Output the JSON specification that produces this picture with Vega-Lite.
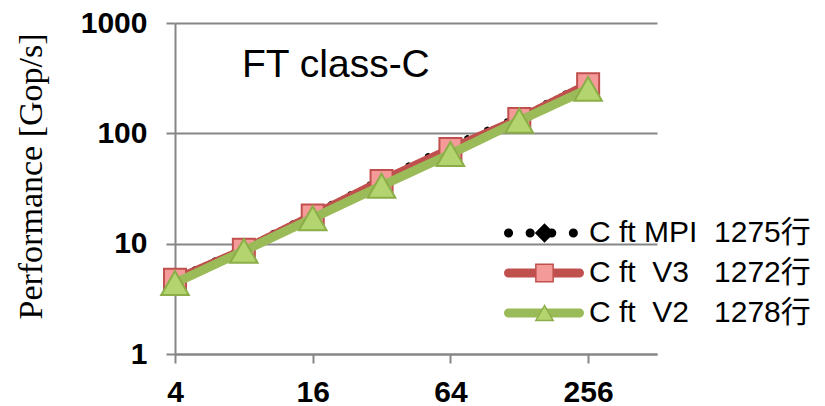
{
  "$schema": "https://vega.github.io/schema/vega-lite/v6.json",
  "width": 482,
  "height": 331,
  "autosize": {"type": "none"},
  "padding": {"left": 175, "top": 23, "right": 168, "bottom": 52},
  "background": "white",
  "config": {"view": {"stroke": null}},
  "title": {"text": "FT class-C", "orient": "top", "anchor": "start", "frame": "group", "font": "Liberation Sans", "fontSize": 39, "fontWeight": "normal", "color": "black", "dx": 67, "dy": 108, "baseline": "alphabetic", "offset": 0},
  "data": {"values": [
    {"procs": 4, "perf": 4.9, "code": "MPI", "series": "C ft\u00a0MPI\u00a0\u00a01275行"},
    {"procs": 8, "perf": 9.2, "code": "MPI", "series": "C ft\u00a0MPI\u00a0\u00a01275行"},
    {"procs": 16, "perf": 18.8, "code": "MPI", "series": "C ft\u00a0MPI\u00a0\u00a01275行"},
    {"procs": 32, "perf": 39, "code": "MPI", "series": "C ft\u00a0MPI\u00a0\u00a01275行"},
    {"procs": 64, "perf": 78, "code": "MPI", "series": "C ft\u00a0MPI\u00a0\u00a01275行"},
    {"procs": 128, "perf": 143, "code": "MPI", "series": "C ft\u00a0MPI\u00a0\u00a01275行"},
    {"procs": 256, "perf": 290, "code": "MPI", "series": "C ft\u00a0MPI\u00a0\u00a01275行"},
    {"procs": 4, "perf": 4.7, "code": "V3", "series": "C ft\u00a0\u00a0V3\u00a0\u00a0\u00a01272行"},
    {"procs": 8, "perf": 8.8, "code": "V3", "series": "C ft\u00a0\u00a0V3\u00a0\u00a0\u00a01272行"},
    {"procs": 16, "perf": 18.0, "code": "V3", "series": "C ft\u00a0\u00a0V3\u00a0\u00a0\u00a01272行"},
    {"procs": 32, "perf": 37, "code": "V3", "series": "C ft\u00a0\u00a0V3\u00a0\u00a0\u00a01272行"},
    {"procs": 64, "perf": 72, "code": "V3", "series": "C ft\u00a0\u00a0V3\u00a0\u00a0\u00a01272行"},
    {"procs": 128, "perf": 135, "code": "V3", "series": "C ft\u00a0\u00a0V3\u00a0\u00a0\u00a01272行"},
    {"procs": 256, "perf": 279, "code": "V3", "series": "C ft\u00a0\u00a0V3\u00a0\u00a0\u00a01272行"},
    {"procs": 4, "perf": 4.4, "code": "V2", "series": "C ft\u00a0\u00a0V2\u00a0\u00a0\u00a01278行"},
    {"procs": 8, "perf": 8.6, "code": "V2", "series": "C ft\u00a0\u00a0V2\u00a0\u00a0\u00a01278行"},
    {"procs": 16, "perf": 17.0, "code": "V2", "series": "C ft\u00a0\u00a0V2\u00a0\u00a0\u00a01278行"},
    {"procs": 32, "perf": 33.5, "code": "V2", "series": "C ft\u00a0\u00a0V2\u00a0\u00a0\u00a01278行"},
    {"procs": 64, "perf": 65, "code": "V2", "series": "C ft\u00a0\u00a0V2\u00a0\u00a0\u00a01278行"},
    {"procs": 128, "perf": 130, "code": "V2", "series": "C ft\u00a0\u00a0V2\u00a0\u00a0\u00a01278行"},
    {"procs": 256, "perf": 253, "code": "V2", "series": "C ft\u00a0\u00a0V2\u00a0\u00a0\u00a01278行"}
  ]},
  "encoding": {
    "x": {"field": "procs", "type": "quantitative",
      "scale": {"type": "log", "base": 2, "domain": [4, 512]},
      "axis": {"values": [4, 16, 64, 256], "format": "d", "grid": false, "title": null,
        "labelFont": "Liberation Sans", "labelFontSize": 30, "labelFontWeight": "bold", "labelColor": "black",
        "labelPadding": 14, "labelFlush": false, "labelOverlap": false,
        "tickSize": 9, "tickColor": "#868686", "tickWidth": 2,
        "domainColor": "#868686", "domainWidth": 2}},
    "y": {"field": "perf", "type": "quantitative",
      "scale": {"type": "log", "domain": [1, 1000]},
      "axis": {"values": [1, 10, 100, 1000], "format": "d", "grid": true, "gridColor": "#868686", "gridWidth": 2,
        "labelFont": "Liberation Sans", "labelFontSize": 30, "labelFontWeight": "bold", "labelColor": "black",
        "labelPadding": 19, "labelFlush": false, "labelOverlap": false,
        "tickSize": 9, "tickColor": "#868686", "tickWidth": 2,
        "domainColor": "#868686", "domainWidth": 2,
        "title": "Performance [Gop/s]", "titleFont": "Liberation Serif", "titleFontSize": 34, "titleFontWeight": "normal", "titleColor": "black",
        "titleX": -144, "titleY": 153, "titleAlign": "center", "titleBaseline": "middle", "titleAngle": -90}}
  },
  "layer": [
    {
      "transform": [{"filter": "datum.code == 'MPI'"}],
      "mark": {"type": "line", "strokeWidth": 6, "strokeCap": "round", "strokeJoin": "round"},
      "encoding": {
        "color": {"field": "series", "type": "nominal",
          "scale": {"domain": ["C ft\u00a0MPI\u00a0\u00a01275行", "C ft\u00a0\u00a0V3\u00a0\u00a0\u00a01272行", "C ft\u00a0\u00a0V2\u00a0\u00a0\u00a01278行"], "range": ["#000000", "#C0504D", "#9BBB59"]},
          "legend": {"orient": "none", "legendX": 329, "legendY": 191, "title": null, "direction": "vertical",
            "symbolType": "stroke", "symbolSize": 5041, "symbolStrokeWidth": 9, "clipHeight": 38, "rowPadding": 2, "padding": 0,
            "labelFont": "Liberation Sans, Noto Sans CJK JP", "labelFontSize": 30, "labelColor": "black", "labelOffset": 5, "labelLimit": 400,
            "encode": {"symbols": {"update": {"strokeCap": {"value": "round"}}}}}},
        "strokeDash": {"field": "series", "type": "nominal",
          "scale": {"domain": ["C ft\u00a0MPI\u00a0\u00a01275行", "C ft\u00a0\u00a0V3\u00a0\u00a0\u00a01272行", "C ft\u00a0\u00a0V2\u00a0\u00a0\u00a01278行"], "range": [[0.1, 21.5], [1, 0], [1, 0]]}}
      }
    },
    {
      "transform": [{"filter": "datum.code == 'MPI'"}],
      "mark": {"type": "point", "filled": true, "size": 200, "strokeWidth": 1.5, "opacity": 1},
      "encoding": {
        "fill": {"field": "code", "type": "nominal",
          "scale": {"domain": ["MPI", "V3", "V2"], "range": ["#000000", "#F49A98", "#B3D46E"]},
          "legend": {"orient": "none", "legendX": 329, "legendY": 191, "title": null, "direction": "vertical",
            "symbolSize": 300, "symbolStrokeWidth": 1.5, "symbolOffset": 25.5, "clipHeight": 38, "rowPadding": 2, "padding": 0,
            "labelFont": "Liberation Sans, Noto Sans CJK JP", "labelFontSize": 30, "labelExpr": "''", "labelOffset": 5, "symbolOpacity": 1}},
        "shape": {"field": "code", "type": "nominal",
          "scale": {"domain": ["MPI", "V3", "V2"], "range": ["diamond", "square", "triangle-up"]}},
        "stroke": {"field": "code", "type": "nominal",
          "scale": {"domain": ["MPI", "V3", "V2"], "range": ["#000000", "#C0504D", "#8BAE48"]}}
      }
    },
    {
      "transform": [{"filter": "datum.code == 'V3'"}],
      "mark": {"type": "line", "strokeWidth": 9, "strokeCap": "round", "strokeJoin": "round"},
      "encoding": {
        "color": {"field": "series", "type": "nominal"},
        "strokeDash": {"field": "series", "type": "nominal"}
      }
    },
    {
      "transform": [{"filter": "datum.code == 'V3'"}],
      "mark": {"type": "point", "filled": true, "size": 484, "strokeWidth": 2, "opacity": 1},
      "encoding": {
        "fill": {"field": "code", "type": "nominal"},
        "shape": {"field": "code", "type": "nominal"},
        "stroke": {"field": "code", "type": "nominal"}
      }
    },
    {
      "transform": [{"filter": "datum.code == 'V2'"}],
      "mark": {"type": "line", "strokeWidth": 9, "strokeCap": "round", "strokeJoin": "round"},
      "encoding": {
        "color": {"field": "series", "type": "nominal"},
        "strokeDash": {"field": "series", "type": "nominal"}
      }
    },
    {
      "transform": [{"filter": "datum.code == 'V2'"}],
      "mark": {"type": "point", "filled": true, "size": 760, "strokeWidth": 2, "opacity": 1},
      "encoding": {
        "fill": {"field": "code", "type": "nominal"},
        "shape": {"field": "code", "type": "nominal"},
        "stroke": {"field": "code", "type": "nominal"}
      }
    }
  ]
}
